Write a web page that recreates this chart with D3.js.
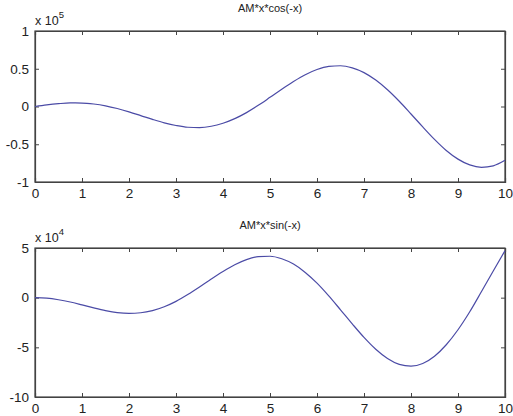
<!DOCTYPE html>
<html>
<head>
<meta charset="utf-8">
<script src="https://cdn.jsdelivr.net/npm/d3@7"></script>
<style>
  html, body { margin: 0; padding: 0; background: #fff; }
  svg { display: block; }
  text { font-family: "Liberation Sans", Arial, sans-serif; fill: #222; }
</style>
</head>
<body>
<script>
// Sample positions along x
const xs = [0,0.25,0.5,0.75,1,1.25,1.5,1.75,2,2.25,2.5,2.75,3,3.25,3.5,3.75,4,4.25,4.5,4.75,
            5,5.25,5.5,5.75,6,6.25,6.5,6.75,7,7.25,7.5,7.75,8,8.25,8.5,8.75,9,9.25,9.5,9.75,10];

// AM*x*cos(-x), in units of 1e5
const cosValues = [0,0.021,0.037,0.047,0.046,0.033,0.009,-0.027,-0.071,-0.120,-0.170,-0.216,-0.252,
  -0.275,-0.279,-0.262,-0.222,-0.161,-0.081,0.015,0.121,0.229,0.331,0.421,0.490,0.531,0.540,0.512,
  0.449,0.350,0.221,0.069,-0.099,-0.270,-0.435,-0.582,-0.697,-0.774,-0.805,-0.786,-0.713];

// AM*x*sin(-x), in units of 1e4
const sinValues = [0,-0.05,-0.21,-0.44,-0.73,-1.03,-1.30,-1.50,-1.58,-1.52,-1.30,-0.91,-0.37,0.31,
  1.07,1.87,2.63,3.31,3.83,4.13,4.17,3.92,3.38,2.54,1.46,0.18,-1.22,-2.64,-4.00,-5.19,-6.12,-6.71,
  -6.89,-6.63,-5.90,-4.74,-3.23,-1.42,0.62,2.69,4.73];

const xTicks = [0,1,2,3,4,5,6,7,8,9,10];
const cosTicks = [-1,-0.5,0,0.5,1];
const sinTicks = [-10,-5,0,5];

const panels = [
  { title: "AM*x*cos(-x)", exp: "5", values: cosValues, ticks: cosTicks, domain: [-1, 1], top: 31, bottom: 182 },
  { title: "AM*x*sin(-x)", exp: "4", values: sinValues, ticks: sinTicks, domain: [-10, 5], top: 248, bottom: 397 }
];

const W = 513, H = 416;
const left = 35, right = 505;
const svg = d3.select("body").append("svg").attr("width", W).attr("height", H);

const x = d3.scaleLinear().domain([0, 10]).range([left, right]);
const tickLen = 4;
const axisColor = "#444";

panels.forEach(p => {
  const y = d3.scaleLinear().domain(p.domain).range([p.bottom, p.top]);
  const g = svg.append("g");

  // bottom axis with labels, inward ticks
  const bx = g.append("g").attr("transform", `translate(0,${p.bottom})`)
    .call(d3.axisBottom(x).tickValues(xTicks).tickSize(-tickLen).tickPadding(8).tickFormat(d3.format("d")));
  // top axis, ticks only
  const tx = g.append("g").attr("transform", `translate(0,${p.top})`)
    .call(d3.axisTop(x).tickValues(xTicks).tickSize(-tickLen).tickFormat(""));
  // left axis with labels
  const ly = g.append("g").attr("transform", `translate(${left},0)`)
    .call(d3.axisLeft(y).tickValues(p.ticks).tickSize(-tickLen).tickPadding(6).tickFormat(d => String(d)));
  // right axis, ticks only
  const ry = g.append("g").attr("transform", `translate(${right},0)`)
    .call(d3.axisRight(y).tickValues(p.ticks).tickSize(-tickLen).tickFormat(""));

  [bx, tx, ly, ry].forEach(a => {
    a.select(".domain").attr("stroke", axisColor).attr("stroke-width", 1.2);
    a.selectAll(".tick line").attr("stroke", axisColor);
    a.selectAll(".tick text").attr("font-size", 13.5).attr("fill", "#333")
      .attr("font-family", "Liberation Sans, Arial, sans-serif");
  });
  bx.selectAll(".tick text").attr("dy", "0.6em");

  // box outline
  g.append("rect").attr("x", left).attr("y", p.top)
    .attr("width", right - left).attr("height", p.bottom - p.top)
    .attr("fill", "none").attr("stroke", axisColor).attr("stroke-width", 1.2);

  // curve
  const line = d3.line().curve(d3.curveMonotoneX).x((d, i) => x(xs[i])).y(d => y(d));
  g.append("path").datum(p.values)
    .attr("d", line)
    .attr("fill", "none").attr("stroke", "#4b4ba6").attr("stroke-width", 1.2);

  // title
  g.append("text").attr("x", (left + right) / 2).attr("y", p.top - 19)
    .attr("text-anchor", "middle").attr("font-size", 11).attr("fill", "#333").text(p.title);

  // exponent label
  const ex = g.append("text").attr("x", left).attr("y", p.top - 6).attr("font-size", 12.5).attr("fill", "#333");
  ex.append("tspan").text("x 10");
  ex.append("tspan").attr("dy", -7).attr("font-size", 9.5).text(p.exp);
});
</script>
</body>
</html>
